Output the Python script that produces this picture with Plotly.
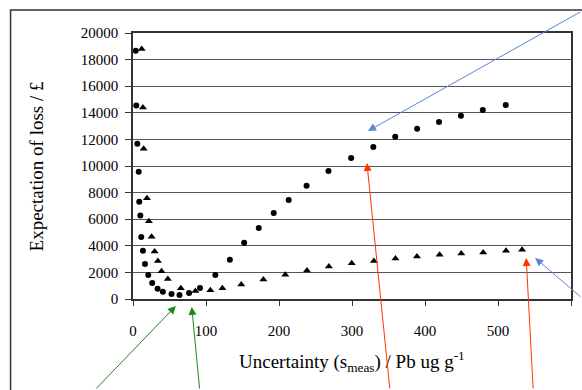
import plotly.graph_objects as go

# ---- data ----
circ_x = [3.7, 4.5, 5.9, 7.8, 8.6, 10, 11.3, 13.6, 16.4, 20.9, 26.3, 33.7, 40.9, 52.8, 63.7,
          76.8, 91.8, 112.8, 132.7, 152.3, 172.3, 192.8, 213.3, 237.8, 267.8, 298.8, 329.2,
          359.2, 389.2, 419.2, 449.2, 479.2, 510.6]
circ_y = [18670, 14540, 11680, 9570, 7320, 6270, 4660, 3630, 2630, 1800, 1200, 775, 550, 376, 300,
          450, 830, 1800, 2955, 4230, 5340, 6470, 7445, 8520, 9625, 10600, 11430,
          12205, 12810, 13310, 13785, 14210, 14590]

tri_x = [11.9, 13.6, 14.6, 19.1, 21.8, 25.5, 29.6, 34.1, 39.1, 47.7, 65.5, 85.5, 106, 122.5,
         148.3, 178.6, 208.6, 238.3, 268.3, 299.6, 330, 359.6, 389, 420, 449.7, 479.7, 511, 533]
tri_y = [18800, 14390, 11300, 7570, 5840, 4680, 3580, 2860, 2080, 1500, 800, 600, 660, 800,
         1090, 1475, 1830, 2150, 2450, 2680, 2860, 3050, 3200, 3330, 3430, 3500, 3630, 3710]

x_ticks = [0, 100, 200, 300, 400, 500, 600]
y_ticks = [0, 2000, 4000, 6000, 8000, 10000, 12000, 14000, 16000, 18000, 20000]
x_tick_text = [str(v) for v in x_ticks]
y_tick_text = [str(v) for v in y_ticks]

y_title = "Expectation of loss / £"
x_title = "Uncertainty (s<sub>meas</sub>) / Pb ug g<sup>-1</sup>"

FONT = "Liberation Serif, Times New Roman, serif"

fig = go.Figure()
fig.add_trace(go.Scatter(x=circ_x, y=circ_y, mode="markers",
                         marker=dict(symbol="circle", size=6, color="black"),
                         showlegend=False, cliponaxis=False))
fig.add_trace(go.Scatter(x=tri_x, y=tri_y, mode="markers",
                         marker=dict(symbol="triangle-up", size=7, color="black"),
                         showlegend=False, cliponaxis=False))

fig.update_layout(
    width=582, height=390,
    margin=dict(l=133, r=9, t=33, b=91),
    paper_bgcolor="white", plot_bgcolor="white",
    font=dict(family=FONT, size=14, color="black"),
    xaxis=dict(range=[0, 600], tickvals=x_ticks, ticktext=x_tick_text,
               ticks="outside", ticklen=5,
               tickcolor="#333", showgrid=False, zeroline=False,
               showline=True, linecolor="#333", linewidth=1.5, mirror=True,
               ticklabelstandoff=12, tickfont=dict(size=15)),
    yaxis=dict(range=[0, 20000], tickvals=y_ticks, ticktext=y_tick_text,
               ticks="outside", ticklen=6,
               tickcolor="#333", showgrid=True, gridcolor="#555", gridwidth=1,
               zeroline=False, showline=True, linecolor="#333", linewidth=1.5,
               mirror=True, ticklabelstandoff=4, tickfont=dict(size=15)),
)

# outer frame
fig.add_shape(type="rect", xref="paper", yref="paper",
              x0=(10 - 133) / 440, x1=1.6, y0=-0.6, y1=(299 - 10) / 266,
              line=dict(color="#333", width=1.5), layer="below")

# axis titles
fig.add_annotation(text=y_title, xref="paper", yref="paper", x=(36 - 133) / 440, y=0.5,
                   textangle=-90, showarrow=False, font=dict(size=19, family=FONT),
                   xanchor="center", yanchor="middle")
fig.add_annotation(text=x_title, xref="paper", yref="paper", x=(353 - 133) / 440,
                   y=(299 - 361) / 266, showarrow=False, font=dict(size=19, family=FONT),
                   xanchor="center", yanchor="middle")

# arrows (tip in paper coords, tail as pixel offset)
def arrow(tx, ty, tailx, taily, color):
    fig.add_annotation(text="", xref="paper", yref="paper",
                       x=(tx - 133) / 440, y=(299 - ty) / 266,
                       ax=tailx - tx, ay=taily - ty, axref="pixel", ayref="pixel",
                       showarrow=True, arrowhead=2, arrowsize=1.6, arrowwidth=1,
                       arrowcolor=color)

arrow(369, 131, 600, 11, "#5b86d2")
arrow(537, 258, 600, 298, "#5b86d2")
arrow(368, 163, 391, 400, "#ff3300")
arrow(528, 258, 535, 400, "#ff3300")
arrow(176, 306, 95, 399, "#1a8a1a")
arrow(192, 307, 200, 400, "#1a8a1a")

fig.write_html("out.html")
